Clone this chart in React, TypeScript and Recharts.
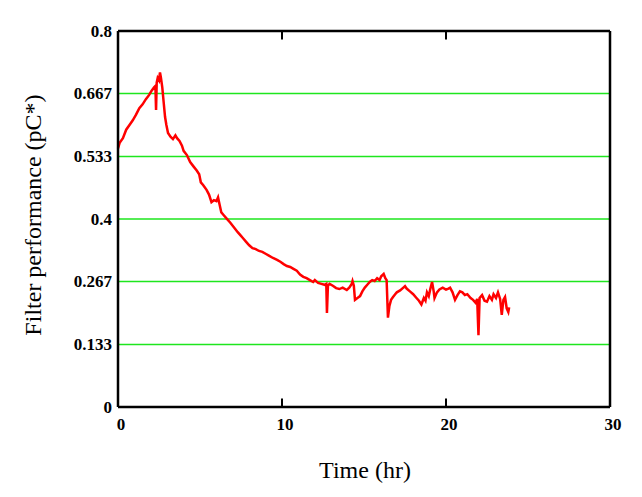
import {
  CartesianGrid,
  Line,
  LineChart,
  ReferenceLine,
  XAxis,
  YAxis,
} from "recharts";

// time in hours
const time = [
  0, 0.1, 0.3, 0.5, 0.7, 0.9, 1.1, 1.3, 1.5, 1.7, 1.9, 2.05, 2.2, 2.28, 2.32,
  2.36, 2.42, 2.5, 2.56, 2.62, 2.7, 2.78, 2.87, 2.95, 3.05, 3.2, 3.35, 3.5, 3.6,
  3.75, 3.9, 4.0, 4.2, 4.4, 4.6, 4.8, 4.95, 5.05, 5.2, 5.4, 5.55, 5.7, 5.85, 6.0,
  6.1, 6.2, 6.3, 6.45, 6.6, 6.85, 7.1, 7.3, 7.5, 7.6, 7.8, 8.0, 8.2, 8.4, 8.6,
  8.8, 9.0, 9.2, 9.45, 9.7, 9.9, 10.1, 10.3, 10.5, 10.7, 10.9, 11.1, 11.3, 11.5,
  11.7, 11.9, 12.0, 12.2, 12.4, 12.6, 12.7, 12.74, 12.8, 12.9, 13.1, 13.3, 13.5,
  13.7, 13.95, 14.1, 14.25, 14.3, 14.38, 14.45, 14.6, 14.76, 14.9, 15.05, 15.2,
  15.35, 15.5, 15.65, 15.8, 15.95, 16.05, 16.2, 16.3, 16.38, 16.46, 16.55, 16.65,
  16.77, 16.9, 17.0, 17.2, 17.4, 17.5, 17.6, 17.8, 18.0, 18.2, 18.35, 18.5,
  18.65, 18.75, 18.84, 18.95, 19.05, 19.15, 19.25, 19.3, 19.45, 19.6, 19.8, 20.0,
  20.15, 20.25, 20.4, 20.55, 20.7, 20.85, 21.0, 21.15, 21.3, 21.5, 21.65, 21.8,
  21.9, 21.98, 22.05, 22.2, 22.35, 22.5, 22.65, 22.8, 22.9, 23.05, 23.17, 23.3,
  23.4, 23.5, 23.6, 23.7, 23.8, 23.85,
];

// filter performance (pC*)
const perf = [
  0.55, 0.562, 0.572, 0.59, 0.6, 0.61, 0.622, 0.636, 0.644, 0.655, 0.664, 0.673,
  0.68, 0.683, 0.632, 0.69, 0.7, 0.695, 0.712, 0.7, 0.68, 0.65, 0.617, 0.6,
  0.583, 0.575, 0.57, 0.578, 0.572, 0.566, 0.556, 0.545, 0.536, 0.521, 0.512,
  0.503, 0.495, 0.478, 0.472, 0.462, 0.452, 0.436, 0.44, 0.438, 0.446, 0.43,
  0.414, 0.408, 0.402, 0.392, 0.381, 0.372, 0.364, 0.36, 0.352, 0.344, 0.338,
  0.336, 0.332, 0.33, 0.326, 0.322, 0.317, 0.313, 0.309, 0.304, 0.3, 0.298,
  0.294, 0.29, 0.282, 0.277, 0.274, 0.27, 0.266, 0.27, 0.264, 0.262, 0.26,
  0.262, 0.2, 0.258, 0.262, 0.258, 0.253, 0.251, 0.254, 0.249, 0.254, 0.262,
  0.268, 0.258, 0.228, 0.232, 0.236, 0.246, 0.254, 0.26, 0.266, 0.27, 0.268,
  0.274, 0.27, 0.278, 0.283, 0.274, 0.27, 0.19, 0.215, 0.228, 0.234, 0.24,
  0.244, 0.248, 0.254, 0.257, 0.252, 0.246, 0.24, 0.232, 0.226, 0.218, 0.232,
  0.226, 0.244, 0.236, 0.252, 0.266, 0.246, 0.232, 0.244, 0.25, 0.254, 0.25,
  0.252, 0.254, 0.244, 0.228, 0.238, 0.246, 0.244, 0.238, 0.24, 0.232, 0.228,
  0.222, 0.23, 0.153, 0.232, 0.238, 0.226, 0.224, 0.236, 0.228, 0.24, 0.232,
  0.244, 0.23, 0.196, 0.228, 0.234, 0.21, 0.202, 0.212,
];

const xTicks = [0, 10, 20, 30];
const yTicks = [0, 0.133, 0.267, 0.4, 0.533, 0.667, 0.8];
const yTickLabels = ["0", "0.133", "0.267", "0.4", "0.533", "0.667", "0.8"];

const data = time.map((t, i) => ({ t, v: perf[i] }));

const tickFont = "'Liberation Serif', 'Times New Roman', serif";

function XTick({ x, payload }: any) {
  return (
    <text
      x={x + 3}
      y={424}
      textAnchor="middle"
      dominantBaseline="central"
      fontFamily={tickFont}
      fontWeight="bold"
      fontSize={17}
      fill="#000"
    >
      {payload.value}
    </text>
  );
}

function YTick({ y, payload }: any) {
  const idx = yTicks.indexOf(payload.value);
  return (
    <text
      x={112}
      y={y}
      textAnchor="end"
      dominantBaseline="central"
      fontFamily={tickFont}
      fontWeight="bold"
      fontSize={17}
      fill="#000"
    >
      {idx >= 0 ? yTickLabels[idx] : payload.value}
    </text>
  );
}

export default function App() {
  return (
    <div
      style={{
        position: "absolute",
        left: 0,
        top: 0,
        width: 642,
        height: 497,
        background: "#fff",
      }}
    >
      <LineChart
        width={642}
        height={497}
        data={data}
        margin={{ top: 31, right: 32, bottom: 40, left: 58 }}
      >
        <CartesianGrid
          vertical={false}
          stroke="#1ee61e"
          strokeWidth={1.5}
          horizontalValues={yTicks}
        />
        <XAxis
          dataKey="t"
          type="number"
          domain={[0, 30]}
          ticks={xTicks}
          tickLine={false}
          axisLine={{ stroke: "#000", strokeWidth: 2.5 }}
          tick={<XTick />}
          height={50}
          interval={0}
          label={{
            value: "Time (hr)",
            position: "bottom",
            offset: 0,
            content: () => (
              <text
                x={365}
                y={470}
                textAnchor="middle"
                dominantBaseline="central"
                fontFamily={tickFont}
                fontSize={24}
                fill="#000"
              >
                Time (hr)
              </text>
            ),
          }}
        />
        <YAxis
          type="number"
          domain={[0, 0.8]}
          ticks={yTicks}
          tickLine={false}
          axisLine={{ stroke: "#000", strokeWidth: 2.5 }}
          tick={<YTick />}
          width={60}
          interval={0}
          label={{
            value: "Filter performance (pC*)",
            position: "center",
            content: () => (
              <text
                x={33}
                y={215}
                transform="rotate(-90 33 215)"
                textAnchor="middle"
                dominantBaseline="central"
                fontFamily={tickFont}
                fontSize={24}
                fill="#000"
              >
                Filter performance (pC*)
              </text>
            ),
          }}
        />
        <ReferenceLine y={0.8} stroke="#000" strokeWidth={2.5} />
        <ReferenceLine x={30} stroke="#000" strokeWidth={2.5} />
        {[10, 20].map((t) => (
          <ReferenceLine
            key={"b" + t}
            segment={[
              { x: t, y: 0 },
              { x: t, y: 0.018 },
            ]}
            stroke="#000"
            strokeWidth={2}
          />
        ))}
        {[10, 20].map((t) => (
          <ReferenceLine
            key={"t" + t}
            segment={[
              { x: t, y: 0.8 },
              { x: t, y: 0.782 },
            ]}
            stroke="#000"
            strokeWidth={2}
          />
        ))}
        <Line
          type="linear"
          dataKey="v"
          stroke="#ff0000"
          strokeWidth={2.5}
          dot={false}
          isAnimationActive={false}
        />
      </LineChart>
    </div>
  );
}
